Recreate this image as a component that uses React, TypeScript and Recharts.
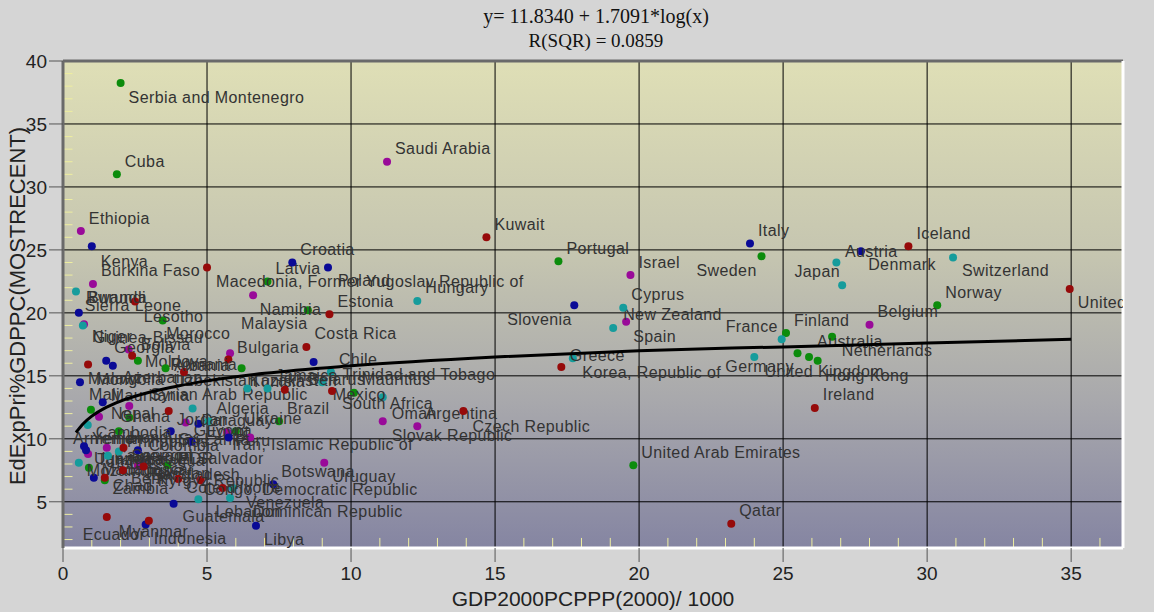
import React from "react";
import { ScatterChart, Scatter, XAxis, YAxis, CartesianGrid, ReferenceLine } from "recharts";

type Pt = { name: string; x: number; y: number };

const greenCountries: Pt[] = [
  { name: "Serbia and Montenegro", x: 2.0, y: 38.25 },
  { name: "Cuba", x: 1.87, y: 31.0 },
  { name: "Latvia", x: 7.1, y: 22.5 },
  { name: "Lesotho", x: 3.46, y: 19.4 },
  { name: "Namibia", x: 8.5, y: 20.2 },
  { name: "Moldova", x: 2.6, y: 16.2 },
  { name: "Uzbekistan", x: 3.56, y: 15.6 },
  { name: "Kazakhstan", x: 6.2, y: 15.6 },
  { name: "Mauritius", x: 10.1, y: 13.65 },
  { name: "Brazil", x: 7.5, y: 11.4 },
  { name: "Mali", x: 0.97, y: 12.3 },
  { name: "Ghana", x: 2.3, y: 11.7 },
  { name: "Honduras", x: 1.94, y: 10.6 },
  { name: "Ukraine", x: 6.0, y: 10.6 },
  { name: "Tanzania", x: 0.9, y: 7.7 },
  { name: "Nicaragua", x: 3.63, y: 7.9 },
  { name: "Zambia", x: 1.45, y: 6.7 },
  { name: "United Arab Emirates", x: 19.8, y: 7.9 },
  { name: "Portugal", x: 17.2, y: 24.1 },
  { name: "Sweden", x: 24.25, y: 24.5 },
  { name: "Finland", x: 25.1, y: 18.4 },
  { name: "Australia", x: 26.7, y: 18.1 },
  { name: "United Kingdom", x: 25.5, y: 16.8 },
  { name: "Hong Kong", x: 25.9, y: 16.5 },
  { name: "Netherlands", x: 26.2, y: 16.2 },
  { name: "Norway", x: 30.35, y: 20.6 },
];

const purpleCountries: Pt[] = [
  { name: "Saudi Arabia", x: 11.25, y: 32.0 },
  { name: "Ethiopia", x: 0.62, y: 26.5 },
  { name: "Burkina Faso", x: 1.04, y: 22.3 },
  { name: "Malaysia", x: 6.6, y: 21.4 },
  { name: "Guinea-Bissau", x: 0.73, y: 19.1 },
  { name: "Bolivia", x: 2.28, y: 17.1 },
  { name: "Bulgaria", x: 5.8, y: 16.8 },
  { name: "Syrian Arab Republic", x: 2.3, y: 12.6 },
  { name: "Nepal", x: 1.25, y: 11.75 },
  { name: "Guyana", x: 4.26, y: 11.3 },
  { name: "Peru", x: 5.7, y: 10.5 },
  { name: "Iran, Islamic Republic of", x: 6.5, y: 10.1 },
  { name: "Armenia", x: 0.87, y: 8.8 },
  { name: "Cameroon", x: 1.52, y: 9.3 },
  { name: "Pakistan", x: 2.6, y: 7.85 },
  { name: "Uruguay", x: 9.07, y: 8.1 },
  { name: "Israel", x: 19.7, y: 23.0 },
  { name: "New Zealand", x: 19.55, y: 19.3 },
  { name: "Argentina", x: 12.3, y: 11.0 },
  { name: "Slovak Republic", x: 11.1, y: 11.4 },
  { name: "Belgium", x: 28.0, y: 19.05 },
];

const blueCountries: Pt[] = [
  { name: "Kenya", x: 1.0, y: 25.3 },
  { name: "Croatia", x: 7.96, y: 24.0 },
  { name: "Poland", x: 9.2, y: 23.6 },
  { name: "Sierra Leone", x: 0.55, y: 20.0 },
  { name: "Trinidad and Tobago", x: 8.7, y: 16.1 },
  { name: "Georgia", x: 1.5, y: 16.2 },
  { name: "Azerbaijan", x: 1.73, y: 15.8 },
  { name: "Malawi", x: 0.59, y: 14.5 },
  { name: "Mauritania", x: 1.38, y: 12.9 },
  { name: "Egypt", x: 4.7, y: 11.2 },
  { name: "Sri Lanka", x: 3.74, y: 10.6 },
  { name: "Colombia", x: 5.75, y: 10.1 },
  { name: "El Salvador", x: 4.46, y: 9.76 },
  { name: "Yemen", x: 0.73, y: 9.4 },
  { name: "Uganda", x: 0.8, y: 9.1 },
  { name: "Lao PDR", x: 2.6, y: 9.1 },
  { name: "Madagascar", x: 1.07, y: 6.9 },
  { name: "Botswana", x: 7.3, y: 6.4 },
  { name: "Guatemala", x: 3.84, y: 4.85 },
  { name: "Indonesia", x: 2.87, y: 3.2 },
  { name: "Libya", x: 6.7, y: 3.1 },
  { name: "Slovenia", x: 17.75, y: 20.6 },
  { name: "Italy", x: 23.85, y: 25.5 },
  { name: "Austria", x: 27.7, y: 24.9 },
];

const tealCountries: Pt[] = [
  { name: "Rwanda", x: 0.45, y: 21.7 },
  { name: "Niger", x: 0.69, y: 19.0 },
  { name: "Chile", x: 9.3, y: 15.3 },
  { name: "Belarus", x: 9.0, y: 14.5 },
  { name: "Tunisia", x: 6.4, y: 14.0 },
  { name: "Jamaica", x: 7.1, y: 14.0 },
  { name: "Oman", x: 11.1, y: 13.3 },
  { name: "Paraguay", x: 4.5, y: 12.4 },
  { name: "Algeria", x: 5.05, y: 11.4 },
  { name: "Cambodia", x: 0.86, y: 11.1 },
  { name: "Philippines", x: 1.94, y: 9.0 },
  { name: "India", x: 1.56, y: 8.65 },
  { name: "Mozambique", x: 0.55, y: 8.1 },
  { name: "Venezuela", x: 5.9, y: 6.1 },
  { name: "Dominican Republic", x: 5.8, y: 5.3 },
  { name: "Lebanon", x: 4.7, y: 5.2 },
  { name: "Hungary", x: 12.3, y: 20.95 },
  { name: "Cyprus", x: 19.45, y: 20.4 },
  { name: "Spain", x: 19.1, y: 18.8 },
  { name: "Greece", x: 17.7, y: 16.4 },
  { name: "Germany", x: 24.0, y: 16.5 },
  { name: "France", x: 24.95, y: 17.9 },
  { name: "Japan", x: 26.85, y: 24.0 },
  { name: "Denmark", x: 27.05, y: 22.2 },
  { name: "Switzerland", x: 30.9, y: 24.4 },
];

const redCountries: Pt[] = [
  { name: "Macedonia, Former Yugoslav Republic of", x: 5.0, y: 23.6 },
  { name: "Burundi", x: 2.5, y: 20.9 },
  { name: "Estonia", x: 9.25, y: 19.9 },
  { name: "Costa Rica", x: 8.45, y: 17.3 },
  { name: "Morocco", x: 2.4, y: 16.6 },
  { name: "Romania", x: 5.74, y: 16.3 },
  { name: "Mongolia", x: 0.87, y: 15.9 },
  { name: "Albania", x: 4.2, y: 15.3 },
  { name: "Mexico", x: 7.7, y: 13.9 },
  { name: "South Africa", x: 9.34, y: 13.8 },
  { name: "Jordan", x: 3.67, y: 12.2 },
  { name: "Senegal", x: 2.1, y: 9.3 },
  { name: "Bangladesh", x: 2.8, y: 7.8 },
  { name: "Benin", x: 2.08, y: 7.5 },
  { name: "Chad", x: 1.45, y: 6.9 },
  { name: "Cote d'Ivoire", x: 4.0, y: 6.8 },
  { name: "Kyrgyz Republic", x: 4.78, y: 6.7 },
  { name: "Congo, Democratic Republic", x: 5.54, y: 6.1 },
  { name: "Ecuador", x: 1.52, y: 3.8 },
  { name: "Myanmar", x: 2.98, y: 3.5 },
  { name: "Kuwait", x: 14.7, y: 26.0 },
  { name: "Korea, Republic of", x: 17.3, y: 15.7 },
  { name: "Czech Republic", x: 13.9, y: 12.2 },
  { name: "Qatar", x: 23.2, y: 3.25 },
  { name: "Ireland", x: 26.1, y: 12.45 },
  { name: "Iceland", x: 29.35, y: 25.3 },
  { name: "United States", x: 34.95, y: 21.9 },
];

// fitted curve
const fitCurve = [
  { x: 0.45, y: 10.5 },
  { x: 0.7, y: 11.2 },
  { x: 1, y: 11.8 },
  { x: 1.5, y: 12.5 },
  { x: 2, y: 13.0 },
  { x: 3, y: 13.7 },
  { x: 4, y: 14.2 },
  { x: 5, y: 14.6 },
  { x: 7, y: 15.2 },
  { x: 10, y: 15.8 },
  { x: 15, y: 16.5 },
  { x: 20, y: 17.0 },
  { x: 25, y: 17.3 },
  { x: 30, y: 17.6 },
  { x: 35, y: 17.9 },
];

const xTicks = [0, 5, 10, 15, 20, 25, 30, 35];
const yTicks = [5, 10, 15, 20, 25, 30, 35, 40];
const minorX = [1, 2, 3, 4, 6, 7, 8, 9, 11, 12, 13, 14, 16, 17, 18, 19, 21, 22, 23, 24, 26, 27, 28, 29, 31, 32, 33, 34, 36];
const minorY = [2, 3, 4, 6, 7, 8, 9, 11, 12, 13, 14, 16, 17, 18, 19, 21, 22, 23, 24, 26, 27, 28, 29, 31, 32, 33, 34, 36, 37, 38, 39];

const X_MAX = 36.8;
const Y_MIN = 1.33;

// label offsets in px (to left edge / vertical centre of the text); default is up-right
const labelNudge: Record<string, [number, number]> = {
  "Serbia and Montenegro": [8, 14],
  Lesotho: [-19, -4],
  Namibia: [-48, -1],
  Moldova: [7, 1],
  Uzbekistan: [8, 12],
  Kazakhstan: [8, 12],
  Mali: [-2, -15],
  Ghana: [-9, -1],
  Honduras: [10, 6],
  Tanzania: [8, -8],
  Nicaragua: [-39, -5],
  Zambia: [8, 8],
  Sweden: [-65, 14],
  Australia: [-15, 5],
  "United Kingdom": [-33, 18],
  "Hong Kong": [16, 19],
  Netherlands: [24, -10],
  Malaysia: [-12, 28],
  "Guinea-Bissau": [9, 13],
  Bolivia: [12, -5],
  Bulgaria: [7, -6],
  "Syrian Arab Republic": [21, -12],
  Nepal: [12, -3],
  Guyana: [8, 8],
  Peru: [8, 8],
  "Iran, Islamic Republic of": [-18, 7],
  Armenia: [-15, -15],
  Cameroon: [8, 8],
  Pakistan: [8, 8],
  Uruguay: [8, 14],
  "New Zealand": [-3, -7],
  "Slovak Republic": [9, 14],
  Kenya: [9, 15],
  Poland: [10, 13],
  "Sierra Leone": [6, -7],
  "Trinidad and Tobago": [29, 13],
  Azerbaijan: [10, 12],
  Malawi: [8, -4],
  Mauritania: [8, -7],
  Egypt: [8, 8],
  "Sri Lanka": [8, 8],
  Colombia: [-80, 8],
  "El Salvador": [-14, 17],
  Yemen: [8, -8],
  Uganda: [8, 8],
  "Lao PDR": [8, 8],
  Madagascar: [8, -8],
  Guatemala: [9, 13],
  Indonesia: [8, 14],
  Libya: [8, 14],
  Slovenia: [-67, 14],
  Austria: [-16, 0],
  Rwanda: [10, 6],
  Niger: [9, 11],
  Belarus: [-14, -3],
  Tunisia: [4, -7],
  Oman: [9, 16],
  Paraguay: [9, 12],
  Cambodia: [8, 8],
  Philippines: [8, -10],
  India: [8, 8],
  Mozambique: [8, 8],
  Venezuela: [13, 15],
  "Dominican Republic": [23, 13],
  Lebanon: [17, 12],
  Spain: [20, 9],
  Greece: [-3, -3],
  Germany: [-29, 10],
  France: [-56, -13],
  Japan: [-42, 9],
  Denmark: [26, -21],
  Switzerland: [9, 13],
  "Macedonia, Former Yugoslav Republic of": [9, 14],
  Burundi: [-47, -4],
  Morocco: [34, -22],
  Romania: [-58, 5],
  Mongolia: [8, 15],
  Albania: [-10, -7],
  Mexico: [48, 5],
  "South Africa": [10, 13],
  Jordan: [8, 8],
  Senegal: [8, 8],
  Bangladesh: [8, 8],
  Benin: [8, 8],
  Chad: [8, 8],
  "Cote d'Ivoire": [8, 8],
  "Kyrgyz Republic": [-43, 0],
  "Congo, Democratic Republic": [-19, 2],
  Ecuador: [-24, 18],
  Myanmar: [-30, 11],
  "Korea, Republic of": [21, 5],
  "Czech Republic": [9, 15],
  "United States": [8, 14],
};

const sans = "'Liberation Sans', Arial, sans-serif";
const serif = "'Liberation Serif', 'Times New Roman', serif";

const makeDot = (color: string) => (props: any) => {
  const { cx, cy, payload } = props;
  if (cx == null || cy == null) return <g />;
  const [dx, dy] = labelNudge[payload.name] ?? [8, -13];
  return (
    <g>
      <circle cx={cx} cy={cy} r={4} fill={color} />
      <text
        x={cx + dx}
        y={cy + dy}
        dominantBaseline="central"
        fontSize={16}
        letterSpacing={0.4}
        fontFamily={sans}
        fill="#333"
        clipPath="url(#plotClip)"
      >
        {payload.name}
      </text>
    </g>
  );
};

const series = [
  { data: greenCountries, color: "#0c8c0c" },
  { data: purpleCountries, color: "#990a99" },
  { data: blueCountries, color: "#0a0a96" },
  { data: tealCountries, color: "#169c9c" },
  { data: redCountries, color: "#960a0a" },
];

export default function App() {
  return (
    <div style={{ position: "absolute", left: 0, top: 0, width: 1154, height: 612, background: "#d5d5d5" }}>
      <svg width={0} height={0} style={{ position: "absolute" }}>
        <defs>
          <linearGradient id="plotBg" x1="0" y1="0" x2="0" y2="1">
            <stop offset="0%" stopColor="#dfdfb6" />
            <stop offset="40%" stopColor="#c5c5b0" />
            <stop offset="70%" stopColor="#a8a8ac" />
            <stop offset="100%" stopColor="#8585a2" />
          </linearGradient>
          <clipPath id="plotClip">
            <rect x={63} y={61} width={1060} height={487} />
          </clipPath>
        </defs>
      </svg>
      <ScatterChart width={1154} height={612} margin={{ top: 61, right: 31, bottom: 0, left: 0 }}>
        <CartesianGrid stroke="#000" fill="url(#plotBg)" fillOpacity={1} />
        <XAxis
          type="number"
          dataKey="x"
          domain={[0, X_MAX]}
          ticks={xTicks}
          interval={0}
          allowDataOverflow
          height={64}
          tickSize={14}
          tickMargin={5}
          tickLine={{ stroke: "#555" }}
          axisLine={{ stroke: "#ffffff", strokeWidth: 3 }}
          tick={{ fontSize: 19, fill: "#222", fontFamily: sans }}
        />
        <YAxis
          type="number"
          dataKey="y"
          domain={[Y_MIN, 40]}
          ticks={yTicks}
          interval={0}
          allowDataOverflow
          width={63}
          tickSize={14}
          tickMargin={2}
          tickLine={{ stroke: "#555" }}
          axisLine={{ stroke: "#6a6a6a", strokeWidth: 3 }}
          tick={{ fontSize: 19, fill: "#222", fontFamily: sans }}
        />
        {minorX.map((v) => (
          <ReferenceLine
            key={"mx" + v}
            segment={[{ x: v, y: Y_MIN }, { x: v, y: Y_MIN + 0.8 }]}
            stroke="#eeeea0"
          />
        ))}
        {minorY.map((v) => (
          <ReferenceLine
            key={"my" + v}
            segment={[{ x: 0, y: v }, { x: 0.33, y: v }]}
            stroke="#eeeea0"
          />
        ))}
        <ReferenceLine y={40} stroke="#6a6a6a" strokeWidth={3} />
        <ReferenceLine x={X_MAX} stroke="#ffffff" strokeWidth={3} />
        {series.map((s, i) => (
          <Scatter key={i} data={s.data} fill={s.color} shape={makeDot(s.color)} isAnimationActive={false} />
        ))}
        <Scatter
          data={fitCurve}
          line={{ stroke: "#000", strokeWidth: 3 }}
          lineJointType="monotoneX"
          shape={() => <g />}
          isAnimationActive={false}
        />
      </ScatterChart>
      <svg width={1154} height={612} style={{ position: "absolute", left: 0, top: 0, pointerEvents: "none" }}>
        <text x={596} y={16} textAnchor="middle" dominantBaseline="central" fontSize={20} fontFamily={serif} fill="#111">
          y= 11.8340 + 1.7091*log(x)
        </text>
        <text x={596} y={40} textAnchor="middle" dominantBaseline="central" fontSize={19} fontFamily={serif} fill="#111">
          R(SQR) = 0.0859
        </text>
        <text
          transform="translate(17,306) rotate(-90)"
          textAnchor="middle"
          dominantBaseline="central"
          fontSize={22}
          fontFamily={sans}
          fill="#222"
        >
          EdExpPri%GDPPC(MOSTRECENT)
        </text>
        <text
          x={593}
          y={598}
          textAnchor="middle"
          dominantBaseline="central"
          fontSize={21}
          fontFamily={sans}
          fill="#222"
        >
          GDP2000PCPPP(2000)/ 1000
        </text>
      </svg>
    </div>
  );
}
